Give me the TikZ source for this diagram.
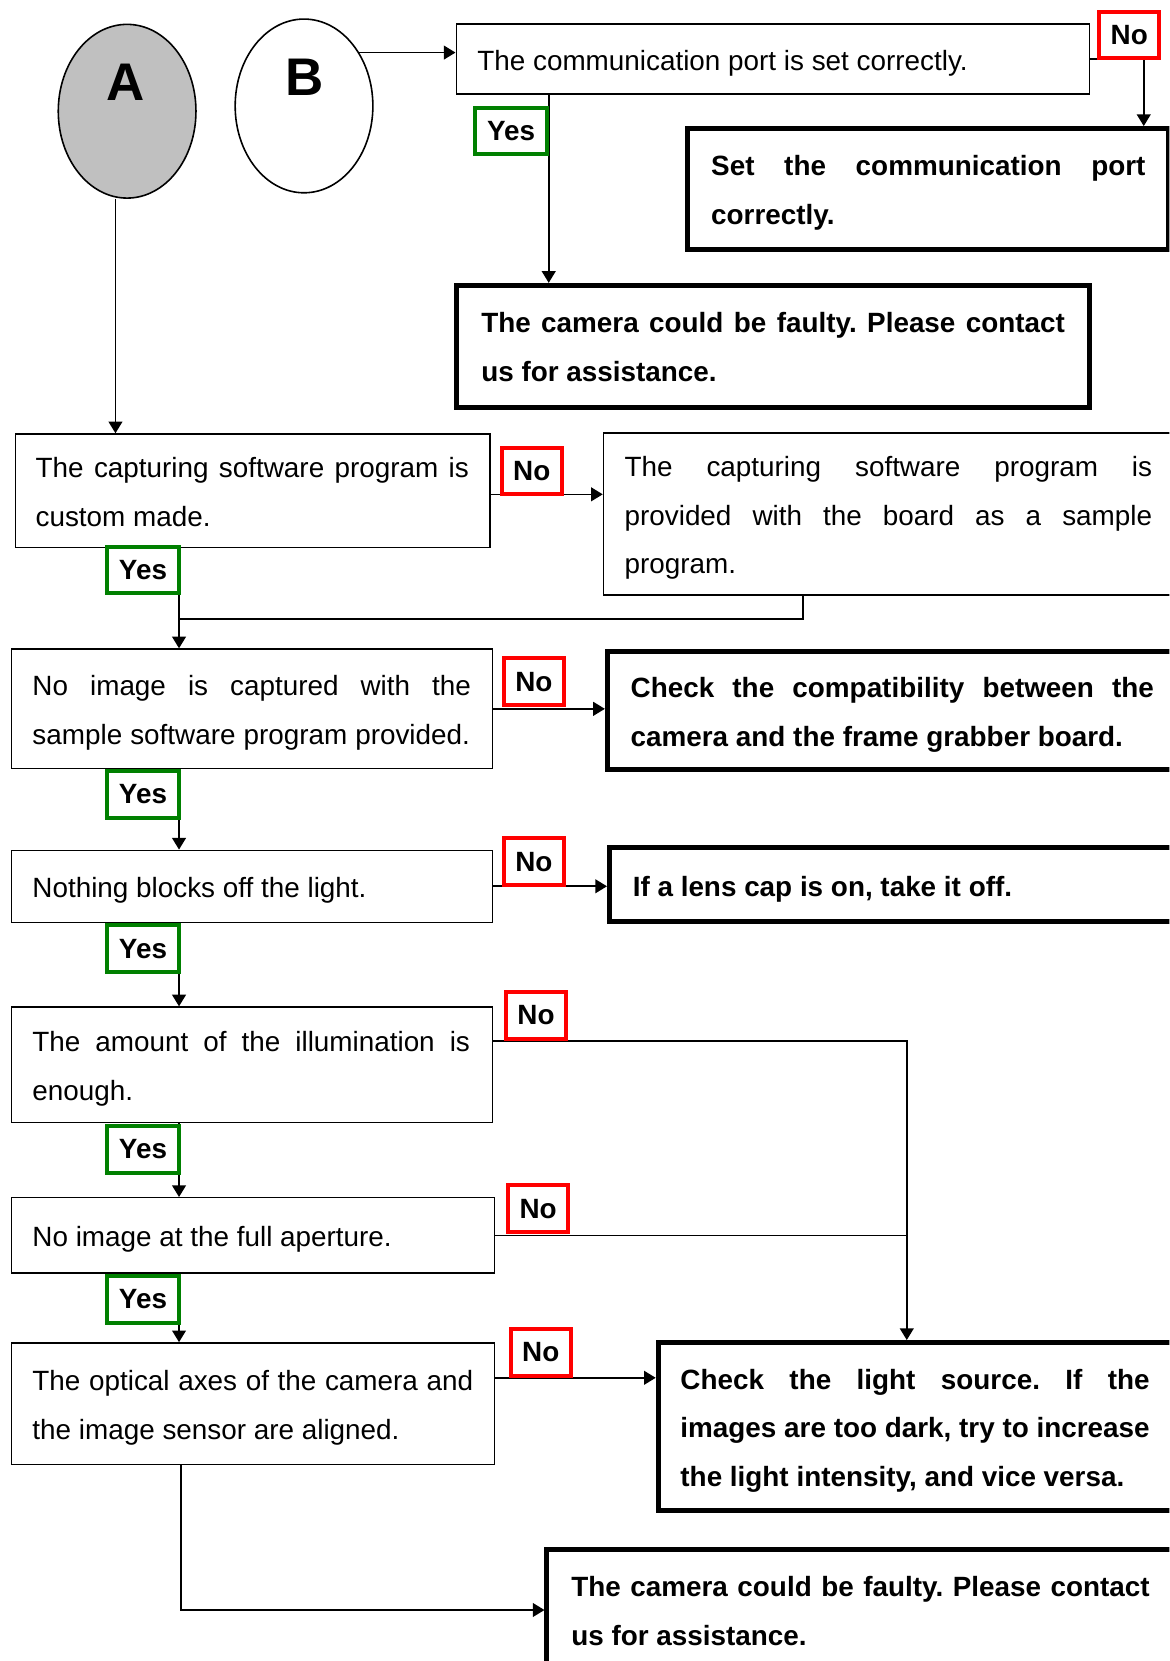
\documentclass[tikz,border=0pt]{standalone}
\usepackage{fontspec}
\setmainfont{Liberation Sans}
\usetikzlibrary{arrows.meta,shapes.geometric,calc}
\definecolor{agray}{RGB}{192,192,192}
\definecolor{ygreen}{RGB}{0,128,0}
\definecolor{nred}{RGB}{255,0,0}
\newcommand{\jl}[2]{{\spaceskip=0pt\xspaceskip=0pt\frenchspacing\makebox[#1pt][s]{#2}}}
\newcommand{\topst}{\rule{0pt}{27pt}}
\newcommand{\botst}{\rule[-6pt]{0pt}{6pt}}
\begin{document}
\begin{tikzpicture}[x=1pt,y=-1pt,
  box/.style={draw, rectangle, line width=1.3pt, anchor=north west, align=flush left,
    inner ysep=0pt, font=\fontsize{26.3}{46}\selectfont\frenchspacing,
    execute at begin node=\topst, execute at end node=\botst},
  tbox/.style={box, line width=4.7pt, font=\bfseries\fontsize{26.3}{46}\selectfont\frenchspacing},
  ell/.style={draw, ellipse, line width=1.5pt, minimum width=130pt, minimum height=164pt, inner sep=0pt},
  letr/.style={font=\bfseries\fontsize{50}{50}\selectfont, inner sep=0pt},
  lab/.style={draw, rectangle, line width=3.8pt, fill=white, minimum height=44pt, inner sep=0pt,
    font=\bfseries\fontsize{26.3}{30}\selectfont},
  yeslab/.style={lab, draw=ygreen, minimum width=68pt},
  nolab/.style={lab, draw=nred, minimum width=57pt},
  conn/.style={line width=1.5pt},
  arr/.style={conn, -{Triangle[length=11pt,width=13pt]}}
]
\useasboundingbox (0,0) rectangle (1104,1568);
\clip (0,0) rectangle (1104,1568);

% start circles
\node[ell, fill=agray] (A) at (120,105) {};
\node[letr] (Alet) at (119,77.5) {A};
\node[ell] (B) at (287,100) {};
\node[letr] (Blet) at (288,73) {B};

% boxes
\node[box, minimum width=598pt, minimum height=66pt, inner xsep=20pt, text width=558pt] (box1) at (430,22)
  {The communication port is set correctly.};
\node[tbox, minimum width=454pt, minimum height=114pt, inner xsep=22pt, text width=410pt] (set) at (647,119)
  {\jl{410}{Set the communication port}\\correctly.};
\node[tbox, minimum width=597pt, minimum height=115pt, inner xsep=23pt, text width=551pt] (f1) at (429,267)
  {\jl{551}{The camera could be faulty. Please contact}\\us for assistance.};

\node[box, minimum width=448pt, minimum height=107pt, inner xsep=19pt, text width=410pt] (box2) at (14,409)
  {\jl{409}{The capturing software program is}\\custom made.};
\node[box, minimum width=545pt, minimum height=153pt, inner xsep=20pt, text width=505pt] (box3) at (569,408)
  {\jl{498}{The capturing software program is}\\\jl{498}{provided with the board as a sample}\\program.};

\node[box, minimum width=454pt, minimum height=113pt, inner xsep=20pt, text width=414pt] (box4) at (10,612)
  {\jl{414}{No image is captured with the}\\\jl{413}{sample software program provided.}};
\node[tbox, minimum width=545pt, minimum height=111pt, inner xsep=22pt, text width=501pt] (box5) at (571,613)
  {\jl{494}{Check the compatibility between the}\\camera and the frame grabber board.};

\node[box, minimum width=454pt, minimum height=68pt, inner xsep=20pt, text width=414pt] (box6) at (10,802)
  {Nothing blocks off the light.};
\node[tbox, minimum width=545pt, minimum height=70pt, inner xsep=22pt, text width=501pt] (box7) at (573,798)
  {If a lens cap is on, take it off.};

\node[box, minimum width=454pt, minimum height=109pt, inner xsep=20pt, text width=414pt] (box8) at (10,950)
  {\jl{413}{The amount of the illumination is}\\enough.};
\node[box, minimum width=456pt, minimum height=71pt, inner xsep=20pt, text width=416pt] (box9) at (10,1130)
  {No image at the full aperture.};
\node[box, minimum width=456pt, minimum height=115pt, inner xsep=20pt, text width=416pt] (box10) at (10,1267)
  {\jl{416}{The optical axes of the camera and}\\the image sensor are aligned.};
\node[tbox, minimum width=495pt, minimum height=159pt, inner xsep=21pt, text width=453pt] (light) at (619,1265)
  {\jl{443}{Check the light source. If the}\\\jl{443}{images are too dark, try to increase}\\the light intensity, and vice versa.};
\node[tbox, minimum width=600pt, minimum height=115pt, inner xsep=23pt, text width=554pt] (f2) at (514,1460)
  {\jl{546}{The camera could be faulty. Please contact}\\us for assistance.};

% helper coordinates
\coordinate (y1) at ([xshift=88pt]box1.south west);
\coordinate (a1) at ([xshift=-11pt]A.south);
\coordinate (n2) at ([yshift=-3.5pt]box2.east);
\coordinate (y2) at ([xshift=155pt]box2.south west);
\coordinate (j3) at ([yshift=-67pt]y2);
\coordinate (m3) at ([xshift=189pt]box3.south west);
\coordinate (y4) at ([xshift=159pt]box4.south west);
\coordinate (y6) at ([xshift=159pt]box6.south west);
\coordinate (y8) at ([xshift=159pt]box8.south west);
\coordinate (n8) at ([yshift=22.5pt]box8.east);
\coordinate (lx) at ([xshift=237pt]light.north west);
\coordinate (y9) at ([xshift=159pt]box9.south west);
\coordinate (n10) at ([yshift=24.5pt]box10.east);
\coordinate (m10) at ([xshift=161pt]box10.south west);
\coordinate (s1) at ([xshift=-26pt]set.north east);

% connectors
\draw[arr] (B.44) -- (B.44 -| box1.west);
\draw[arr] (box1.east) -| (s1);
\draw[arr] (y1) -- (y1 |- f1.north);
\draw[arr] (a1) -- (a1 |- box2.north);
\draw[arr] (n2) -- (n2 -| box3.west);
\draw[arr] (y2) -- (y2 |- box4.north);
\draw[conn] (m3) |- (j3);
\draw[arr] (box4.east) -- (box4.east -| box5.west);
\draw[arr] (y4) -- (y4 |- box6.north);
\draw[arr] (box6.east) -- (box6.east -| box7.west);
\draw[arr] (y6) -- (y6 |- box8.north);
\draw[arr] (n8) -| (lx);
\draw[conn] (box9.east) -- (box9.east -| lx);
\draw[arr] (y8) -- (y8 |- box9.north);
\draw[arr] (y9) -- (y9 |- box10.north);
\draw[arr] (n10) -- (n10 -| light.west);
\draw[arr] (m10) |- (f2.west);

% labels
\node[yeslab] (yes1) at (482.5,123.5) {Yes};
\node[nolab] (no1) at (1066,33) {No};
\node[nolab] (no2) at (502,444.5) {No};
\node[yeslab] (yes2) at (135,538) {Yes};
\node[nolab] (no3) at (504,643.5) {No};
\node[yeslab] (yes3) at (135,750) {Yes};
\node[nolab] (no4) at (504,813.5) {No};
\node[yeslab] (yes4) at (135,895.5) {Yes};
\node[nolab] (no5) at (506,958.5) {No};
\node[yeslab] (yes5) at (135,1085) {Yes};
\node[nolab] (no6) at (508,1141) {No};
\node[yeslab] (yes6) at (135,1226.5) {Yes};
\node[nolab] (no7) at (510.5,1276.5) {No};
\end{tikzpicture}
\end{document}
